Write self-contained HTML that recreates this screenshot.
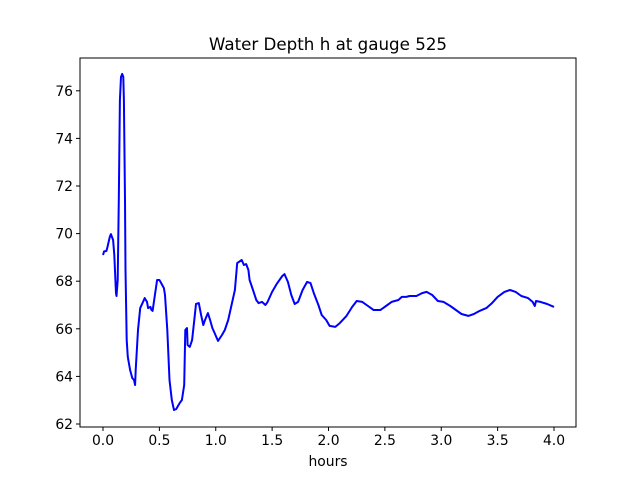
<!DOCTYPE html>
<html><head><meta charset="utf-8"><style>
body{margin:0;background:#fff;}
svg text{font-family:"DejaVu Sans","Liberation Sans",sans-serif;fill:#000;}
</style></head><body>
<svg width="640" height="480">
<rect width="640" height="480" fill="#fff"/>
<g id="plot"></g>
</svg>
<script>
const times=[0.0,0.01,0.03,0.04,0.06,0.07,0.09,0.10,0.11,0.115,0.12,0.13,0.14,0.15,0.16,0.17,0.18,0.185,0.195,0.20,0.21,0.22,0.24,0.26,0.275,0.285,0.29,0.31,0.33,0.35,0.37,0.39,0.40,0.42,0.43,0.44,0.46,0.48,0.50,0.51,0.54,0.55,0.57,0.59,0.61,0.63,0.65,0.665,0.68,0.70,0.72,0.73,0.745,0.75,0.77,0.79,0.81,0.825,0.85,0.87,0.89,0.905,0.93,0.95,0.97,0.985,1.02,1.055,1.08,1.11,1.17,1.19,1.23,1.25,1.27,1.29,1.30,1.33,1.36,1.38,1.41,1.44,1.46,1.50,1.54,1.59,1.61,1.64,1.67,1.70,1.73,1.77,1.81,1.84,1.87,1.91,1.94,1.98,2.01,2.06,2.10,2.16,2.21,2.25,2.30,2.35,2.40,2.46,2.51,2.56,2.62,2.65,2.69,2.72,2.78,2.83,2.87,2.92,2.97,3.02,3.08,3.13,3.18,3.24,3.29,3.34,3.40,3.45,3.50,3.56,3.61,3.66,3.71,3.77,3.81,3.83,3.84,3.88,3.94,4.0];
const depths=[69.1,69.25,69.27,69.44,69.86,69.98,69.73,69.10,68.05,67.50,67.38,68.05,71.41,75.61,76.58,76.71,76.58,75.61,71.41,68.47,65.53,64.82,64.27,63.93,63.85,63.64,64.27,65.95,66.87,67.08,67.29,67.13,66.87,66.92,66.79,66.75,67.42,68.05,68.05,67.97,67.71,67.42,65.95,63.85,63.01,62.59,62.63,62.76,62.88,63.01,63.64,65.95,66.03,65.32,65.24,65.53,66.37,67.04,67.08,66.58,66.16,66.37,66.66,66.37,66.03,65.87,65.49,65.74,65.95,66.37,67.63,68.76,68.89,68.68,68.72,68.47,68.05,67.63,67.21,67.08,67.13,67.0,67.13,67.55,67.88,68.22,68.30,67.97,67.42,67.04,67.13,67.63,67.97,67.92,67.5,67.0,66.58,66.37,66.12,66.08,66.24,66.54,66.92,67.17,67.13,66.96,66.79,66.79,66.96,67.13,67.21,67.34,67.34,67.38,67.38,67.50,67.55,67.42,67.17,67.13,66.96,66.79,66.62,66.54,66.62,66.75,66.87,67.08,67.34,67.55,67.63,67.55,67.38,67.29,67.13,66.96,67.17,67.13,67.04,66.92];
const xTicks=[0.0,0.5,1.0,1.5,2.0,2.5,3.0,3.5,4.0];
const yTicks=[62,64,66,68,70,72,74,76];

const L=80,R=576,T=58,B=427;
const sx=v=>103+v*112.75;
const sy=v=>424-(v-62)*23.8;
const NS="http://www.w3.org/2000/svg";
const g=document.getElementById('plot');
function mk(tag,attrs){const e=document.createElementNS(NS,tag);for(const k in attrs)e.setAttribute(k,attrs[k]);g.appendChild(e);return e;}

let d=times.map((t,i)=>(i?'L':'M')+sx(t).toFixed(1)+','+sy(depths[i]).toFixed(1)).join('');
const line=mk('path',{d:d,fill:'none',stroke:'#0000ff','stroke-width':2,'stroke-linejoin':'round'});



const frame=mk('rect',{x:L,y:T,width:R-L,height:B-T,fill:'none',stroke:'#000','stroke-width':1});



xTicks.forEach(v=>{
  const x=sx(v);
  mk('line',{x1:x,x2:x,y1:B,y2:B+4,stroke:'#000'});
  const t=mk('text',{x:x,y:B+18,'text-anchor':'middle','font-size':13.9});
  t.textContent=v.toFixed(1);
  
  
});
yTicks.forEach(v=>{
  const y=sy(v);
  mk('line',{x1:L-4,x2:L,y1:y,y2:y,stroke:'#000'});
  const t=mk('text',{x:L-7,y:y+5,'text-anchor':'end','font-size':13.9});
  t.textContent=v;
  
  
});
const xl=mk('text',{x:328,y:466,'text-anchor':'middle','font-size':13.9});
xl.textContent='hours';


const ti=mk('text',{x:328,y:50,'text-anchor':'middle','font-size':16.7});
ti.textContent='Water Depth h at gauge 525';


</script>
</body></html>
